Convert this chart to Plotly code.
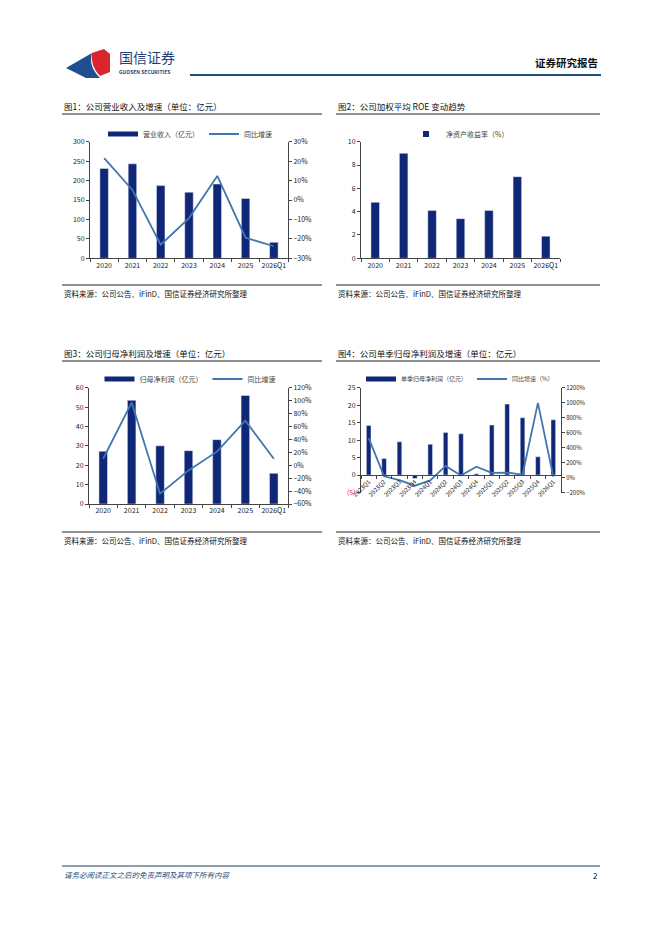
import plotly.graph_objects as go

# 年度数据
years = ['2020', '2021', '2022', '2023', '2024', '2025', '2026Q1']
revenue = [231, 243, 187, 170, 191, 154, 41]                 # 营业收入（亿元）
revenue_yoy = [21.5, 5.2, -23.0, -9.3, 12.4, -19.4, -23.8]   # 同比增速 %
roe = [4.8, 9.0, 4.1, 3.4, 4.1, 7.0, 1.9]                    # 净资产收益率 %
net_profit = [27.2, 53.5, 30.0, 27.5, 33.2, 56.0, 15.8]      # 归母净利润（亿元）
net_profit_yoy = [10, 97, -44, -8, 21, 69, 10]               # 同比增速 %

# 单季数据
quarters = ['2023Q1', '2023Q2', '2023Q3', '2023Q4', '2024Q1', '2024Q2', '2024Q3',
            '2024Q4', '2025Q1', '2025Q2', '2025Q3', '2025Q4', '2026Q1']
q_profit = [14.2, 4.7, 9.5, -1.0, 8.8, 12.2, 11.8, 0.4, 14.3, 20.3, 16.4, 5.2, 15.8]
q_yoy = [527, 16, -36, -109, -38, 155, 28, 145, 62, 66, 38, 998, 10]

# 页面默认 body 边距 8px，图表尺寸扣掉
OFF = 8
W, H = 662 - OFF, 936 - OFF
BAR = 'rgb(16,38,118)'
LINE = 'rgb(66,118,176)'
FONT = 'Noto Sans CJK SC'


def px(x):
    return (x - OFF) / W


def py(y):
    return 1 - (y - OFF) / H


fig = go.Figure()


def add_bar(x, y, name, xa, ya, lg, square=False):
    fig.add_trace(go.Bar(x=x, y=y, name=name, marker_color=BAR, width=0.3,
                         xaxis=xa, yaxis=ya, showlegend=False))
    # 图例色块
    if square:
        fig.add_trace(go.Scatter(x=[None], y=[None], name=name, mode='markers',
                                 marker=dict(color=BAR, size=6, symbol='square'),
                                 xaxis=xa, yaxis=ya, legend=lg))
    else:
        fig.add_trace(go.Scatter(x=[None], y=[None], name=name, mode='lines',
                                 line=dict(color=BAR, width=5), xaxis=xa, yaxis=ya, legend=lg))


def add_line(x, y, name, xa, ya, lg):
    fig.add_trace(go.Scatter(x=x, y=y, name=name, mode='lines',
                             line=dict(color=LINE, width=1.8), xaxis=xa, yaxis=ya, legend=lg))


# 图1
add_bar(years, revenue, '营业收入（亿元）', 'x', 'y', 'legend')
add_line(years, revenue_yoy, '同比增速', 'x', 'y2', 'legend')
# 图2
add_bar(years, roe, '净资产收益率（%）', 'x2', 'y3', 'legend2', square=True)
# 图3
add_bar(years, net_profit, '归母净利润（亿元）', 'x3', 'y4', 'legend3')
add_line(years, net_profit_yoy, '同比增速', 'x3', 'y5', 'legend3')
# 图4
add_bar(quarters, q_profit, '单季归母净利润（亿元）', 'x4', 'y6', 'legend4')
add_line(quarters, q_yoy, '同比增速（%）', 'x4', 'y7', 'legend4')

tickf = dict(family=FONT, size=7, color='#222')
ax_common = dict(showgrid=False, zeroline=False, showline=True, linecolor='#444', linewidth=1,
                 ticks='outside', ticklen=3, tickcolor='#444', tickfont=tickf, fixedrange=True)

# 坐标区域（像素）
c1 = dict(x=(90, 288), y=(141.7, 258.3))
c2 = dict(x=(361, 560), y=(141.7, 258.3))
c3 = dict(x=(89, 288), y=(387.7, 504))
c4 = dict(x=(361, 561), y=(387.7, 492.5))


def dom(c):
    return [px(c['x'][0]), px(c['x'][1])], [py(c['y'][1]), py(c['y'][0])]


d1x, d1y = dom(c1)
d2x, d2y = dom(c2)
d3x, d3y = dom(c3)
d4x, d4y = dom(c4)

zero4 = d4y[0] + (d4y[1] - d4y[0]) * 5 / 30

legfont = dict(family=FONT, size=7, color='#444')
fig.update_layout(
    width=W, height=H, margin=dict(l=0, r=0, t=0, b=0, autoexpand=False),
    paper_bgcolor='white', plot_bgcolor='white',
    font=dict(family=FONT, size=7, color='#222'),
    xaxis=dict(ax_common, domain=d1x, anchor='y', tickson='boundaries', tickangle=0),
    yaxis=dict(ax_common, domain=d1y, anchor='x', range=[0, 300], dtick=50),
    yaxis2=dict(ax_common, overlaying='y', side='right', anchor='x', range=[-30, 30], dtick=10,
                ticksuffix='%'),
    xaxis2=dict(ax_common, domain=d2x, anchor='y3', tickson='boundaries', tickangle=0),
    yaxis3=dict(ax_common, domain=d2y, anchor='x2', range=[0, 10], dtick=2),
    xaxis3=dict(ax_common, domain=d3x, anchor='y4', tickson='boundaries', tickangle=0),
    yaxis4=dict(ax_common, domain=d3y, anchor='x3', range=[0, 60], dtick=10),
    yaxis5=dict(ax_common, overlaying='y4', side='right', anchor='x3', range=[-60, 120], dtick=20,
                ticksuffix='%'),
    xaxis4=dict(ax_common, domain=d4x, anchor='free', position=zero4, tickson='boundaries',
                tickangle=-45, tickfont=dict(family=FONT, size=6, color='#222')),
    yaxis6=dict(ax_common, domain=d4y, anchor='x4', range=[-5, 25],
                tickvals=[-5, 0, 5, 10, 15, 20, 25],
                ticktext=["<span style='color:#e03030'>(5)</span>", '0', '5', '10', '15', '20', '25']),
    yaxis7=dict(ax_common, overlaying='y6', side='right', anchor='x4', range=[-200, 1200], dtick=200,
                ticksuffix='%', tickfont=dict(family=FONT, size=6, color='#222')),
    legend=dict(orientation='h', x=px(190), y=py(134), xanchor='center', yanchor='middle',
                font=legfont, bgcolor='rgba(0,0,0,0)', itemwidth=30),
    legend2=dict(orientation='h', x=px(460), y=py(134), xanchor='center', yanchor='middle',
                 font=legfont, bgcolor='rgba(0,0,0,0)'),
    legend3=dict(orientation='h', x=px(190), y=py(379), xanchor='center', yanchor='middle',
                 font=legfont, bgcolor='rgba(0,0,0,0)', itemwidth=30),
    legend4=dict(orientation='h', x=px(460), y=py(379), xanchor='center', yanchor='middle',
                 font=dict(family=FONT, size=6, color='#444'), bgcolor='rgba(0,0,0,0)', itemwidth=30),
    showlegend=True,
)

shapes = []
annots = []


def hline(x0, x1, y, color='#222', width=1):
    shapes.append(dict(type='line', xref='paper', yref='paper', x0=px(x0), x1=px(x1),
                       y0=py(y), y1=py(y), line=dict(color=color, width=width)))


def text(x, y, s, size=9, color='#111', anchor='left', bold=False, italic=False):
    if bold:
        s = '<b>' + s + '</b>'
    if italic:
        s = '<i>' + s + '</i>'
    annots.append(dict(xref='paper', yref='paper', x=px(x), y=py(y), text=s, showarrow=False,
                       xanchor=anchor, yanchor='middle',
                       font=dict(family=FONT, size=size, color=color)))


# 页眉
shapes.append(dict(type='path', xref='paper', yref='paper',
                   path=f'M {px(66)},{py(68)} L {px(92)},{py(53)} Q {px(88)},{py(66)} {px(100)},{py(78)} '
                        f'L {px(86)},{py(78)} Z',
                   fillcolor='#1f4f8f', line=dict(width=0)))
shapes.append(dict(type='path', xref='paper', yref='paper',
                   path=f'M {px(92)},{py(53)} L {px(104)},{py(49)} L {px(110)},{py(54)} L {px(110)},{py(72)} '
                        f'L {px(100)},{py(76)} Q {px(90)},{py(66)} {px(92)},{py(53)} Z',
                   fillcolor='#d9252e', line=dict(width=0)))
text(117, 57, '国信证券', size=14, color='#1f3f7a')
text(117, 71, 'GUOSEN SECURITIES', size=5, color='#1f3f7a', bold=True)
hline(190, 601, 75, color='#1f4e79', width=2)
text(600, 62, '证券研究报告', size=10.5, color='#111', anchor='right', bold=True)

# 图标题与来源
for x0, x1, ytitle, title in [
    (62, 322, 106, '图1：公司营业收入及增速（单位：亿元）'),
    (336, 600, 106, '图2：公司加权平均 ROE 变动趋势'),
    (62, 322, 353, '图3：公司归母净利润及增速（单位：亿元）'),
    (336, 600, 353, '图4：公司单季归母净利润及增速（单位：亿元）'),
]:
    text(x0, ytitle, title, size=8.5)
    hline(x0, x1, ytitle + 8)
    hline(x0, x1, ytitle + 179)
    text(x0, ytitle + 187, '资料来源：公司公告、iFinD、国信证券经济研究所整理', size=7.5)

# 页脚
hline(62, 600, 866, color='#1f3f60', width=1)
text(62, 874, '请务必阅读正文之后的免责声明及其项下所有内容', size=7.5, color='#1f4e79', italic=True)
text(600, 875, '2', size=8, color='#111', anchor='right')

fig.update_layout(shapes=shapes, annotations=annots)
fig.write_html('out.html')
